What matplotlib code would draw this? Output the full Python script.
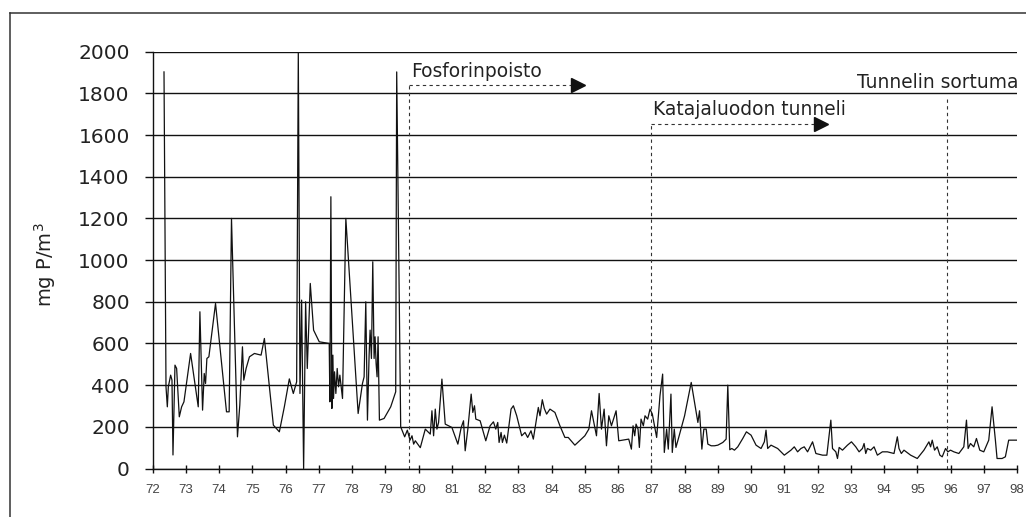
import matplotlib
matplotlib.use('Agg')
import matplotlib.pyplot as plt

# ---- data (year, mg P/m3) ----
years = [
    72.34, 72.40, 72.44, 72.47, 72.54, 72.58, 72.61, 72.67, 72.72, 72.80, 72.87, 72.94,
    73.14, 73.37, 73.42, 73.50, 73.55, 73.59, 73.63, 73.69, 73.89,
    74.22, 74.30, 74.37, 74.55, 74.62, 74.70, 74.74, 74.81, 74.91,
    75.06, 75.26, 75.36, 75.63, 75.81, 75.96,
    76.11, 76.23, 76.33, 76.38, 76.43, 76.48, 76.54, 76.60, 76.65, 76.74, 76.84,
    77.01, 77.31, 77.33, 77.36, 77.39, 77.42, 77.44, 77.47, 77.51, 77.55, 77.59, 77.63, 77.71, 77.81,
    78.18, 78.31, 78.36, 78.41, 78.46, 78.51, 78.54, 78.58, 78.62, 78.66, 78.69, 78.72, 78.75, 78.78, 78.82, 78.96,
    79.16, 79.31, 79.34, 79.46, 79.52, 79.58, 79.66, 79.74, 79.80, 79.85, 79.90,
    80.05, 80.20, 80.35, 80.40, 80.45, 80.50, 80.55, 80.60, 80.70, 80.80,
    81.00, 81.18, 81.28, 81.35, 81.40, 81.48, 81.58, 81.63, 81.68, 81.72, 81.85,
    82.02, 82.15, 82.25, 82.32, 82.38, 82.42, 82.48, 82.52, 82.58, 82.65, 82.78, 82.85, 82.95,
    83.10, 83.20, 83.28, 83.38, 83.45, 83.60, 83.65, 83.72, 83.78, 83.85, 83.95,
    84.10, 84.25, 84.40, 84.50, 84.70,
    85.00, 85.12, 85.20, 85.35, 85.43, 85.50, 85.58, 85.65, 85.72, 85.80, 85.94,
    86.02, 86.32, 86.40, 86.45, 86.50, 86.54, 86.60, 86.64, 86.69, 86.76, 86.81, 86.89, 86.96,
    87.03, 87.16, 87.26, 87.34, 87.39, 87.46, 87.51, 87.59, 87.63, 87.69, 87.74, 87.81,
    88.00, 88.20, 88.40, 88.45, 88.52, 88.58, 88.65, 88.70, 88.80, 88.90,
    89.00, 89.15, 89.25, 89.30, 89.36, 89.42, 89.50, 89.60, 89.75, 89.86,
    90.00, 90.15, 90.30, 90.40, 90.45, 90.50, 90.60, 90.70, 90.80,
    91.00, 91.20, 91.30, 91.40, 91.50, 91.60, 91.70, 91.85, 91.95,
    92.15, 92.28, 92.40, 92.45, 92.55, 92.60, 92.65, 92.75, 92.90,
    93.02, 93.15, 93.25, 93.35, 93.40, 93.45, 93.50, 93.60, 93.70, 93.80, 93.95,
    94.10, 94.30, 94.40, 94.45, 94.52, 94.60, 94.80,
    95.00, 95.20, 95.35, 95.40, 95.45, 95.52, 95.60, 95.68, 95.75, 95.85, 95.92,
    96.00, 96.10, 96.25, 96.40, 96.48, 96.53, 96.60, 96.70, 96.78, 96.88,
    97.00, 97.15, 97.25, 97.35, 97.40, 97.55, 97.65, 97.75, 98.00,
]
values = [
    1903, 392, 296, 392, 448, 424, 65, 496, 480, 248, 296, 320,
    552, 296, 752, 280, 456, 408, 528, 536, 792,
    272, 272, 1200, 152, 304, 584, 424, 480, 536,
    552, 544, 624, 208, 176, 296,
    430, 360, 416, 2000, 360, 808, 0, 800, 480, 888, 664,
    608, 600, 320, 1304, 288, 544, 336, 464, 360, 480, 392, 448, 336, 1200,
    264, 408, 440, 800, 232, 544, 664, 528, 992, 528, 632, 504, 440, 632, 232, 240,
    296, 368, 1903, 200, 176, 152, 184, 136, 157, 117, 133,
    100, 189, 165, 277, 157, 285, 189, 221, 429, 213,
    197, 117, 197, 229, 85, 189, 357, 269, 301, 237, 229,
    133, 205, 224, 189, 221, 125, 173, 125, 160, 122, 285, 301, 253,
    157, 173, 149, 181, 141, 293, 253, 330, 288, 261, 285,
    269, 205, 149, 149, 112,
    157, 189, 277, 157, 360, 189, 285, 109, 253, 205, 277,
    133, 141, 93, 205, 157, 213, 189, 101, 237, 205, 253, 237, 285,
    261, 149, 349, 453, 77, 189, 93, 357, 77, 189, 101, 141,
    253, 413, 221, 277, 93, 189, 189, 117, 109, 109,
    112, 125, 141, 400, 90, 96, 88, 104, 144, 176,
    160, 112, 96, 128, 184, 96, 112, 104, 96,
    64, 88, 104, 80, 96, 104, 80, 128, 72,
    64, 64, 232, 96, 80, 48, 101, 88, 112,
    128, 104, 80, 96, 120, 72, 96, 88, 104, 64, 80,
    80, 72, 152, 96, 72, 88, 64,
    48, 88, 128, 104, 136, 88, 104, 64, 56, 96, 80,
    88, 80, 72, 104, 232, 96, 120, 104, 144, 88,
    80, 136, 296, 136, 48, 48, 56, 136, 136,
]

y_ticks = [0, 200, 400, 600, 800, 1000, 1200, 1400, 1600, 1800, 2000]
x_ticks = list(range(72, 99))
x_tick_labels = [str(v) for v in x_ticks]

event_x = [79.7, 87.0, 95.88]
event_top = [1840, 1652, 1783]
event_labels = ["Fosforinpoisto", "Katajaluodon tunneli", "Tunnelin sortuma"]
arrow_end = [85.0, 92.3]

# ---- figure ----
fig = plt.figure(figsize=(10.26, 5.17), dpi=100)
fig.patch.set_facecolor('white')

# outer frame (top and left edges visible)
fig.add_artist(plt.Line2D([10/1026, 1.0], [1-13/517, 1-13/517], color='#333333', lw=1.1, transform=fig.transFigure))
fig.add_artist(plt.Line2D([10/1026, 10/1026], [1-13/517, 0.0], color='#333333', lw=1.1, transform=fig.transFigure))

ax = fig.add_axes([152.7/1026, 48.5/517, (1017-152.7)/1026, (468.5-51.7)/517])
ax.set_xlim(72, 98)
ax.set_ylim(0, 2000)

for s in ['top', 'right']:
    ax.spines[s].set_visible(False)
ax.spines['left'].set_color('#111111')
ax.spines['bottom'].set_color('#111111')
ax.spines['left'].set_linewidth(1.0)
ax.spines['bottom'].set_linewidth(1.0)

ax.set_yticks(y_ticks)
ax.set_yticklabels([str(v) for v in y_ticks], fontfamily='DejaVu Sans', fontsize=14.5, color='#222222')
ax.set_xticks(x_ticks)
ax.set_xticklabels(x_tick_labels, fontfamily='Liberation Sans', fontsize=9.5, color='#444444')
ax.tick_params(axis='y', direction='out', length=5.5, width=1.0, pad=11, color='#111111')
ax.tick_params(axis='x', direction='inout', length=6, width=1.0, pad=8, color='#111111')

ax.grid(axis='y', color='#111111', lw=1.0)
ax.set_axisbelow(True)

ax.plot(years, values, color='#111111', lw=0.9, zorder=3)

# event markers
dash = (0, (3, 3))
for xv, top in zip(event_x, event_top):
    ax.plot([xv, xv], [0, top], color='#333333', lw=0.8, linestyle=dash, zorder=2)

for xv, xe, top in zip(event_x[:2], arrow_end, event_top[:2]):
    ax.plot([xv, xe - 0.25], [top, top], color='#333333', lw=0.8, linestyle=dash, zorder=2)
    ax.plot([xe - 0.2], [top], marker='>', markersize=10, color='#111111', lw=0, zorder=4)

ax.text(event_x[0] + 0.06, 1878, event_labels[0], fontfamily='DejaVu Sans', fontsize=13.4,
        color='#222222', ha='left', va='baseline')
ax.text(event_x[1] + 0.04, 1695, event_labels[1], fontfamily='DejaVu Sans', fontsize=13.4,
        color='#222222', ha='left', va='baseline')
ax.text(98.05, 1828, event_labels[2], fontfamily='DejaVu Sans', fontsize=13.4,
        color='#222222', ha='right', va='baseline')

fig.text(45/1026, 1-265/517, 'mg P/m$^3$', rotation=90, ha='center', va='center',
         fontfamily='DejaVu Sans', fontsize=14, color='#222222')

fig.savefig('out.png', dpi=100, facecolor='white')
